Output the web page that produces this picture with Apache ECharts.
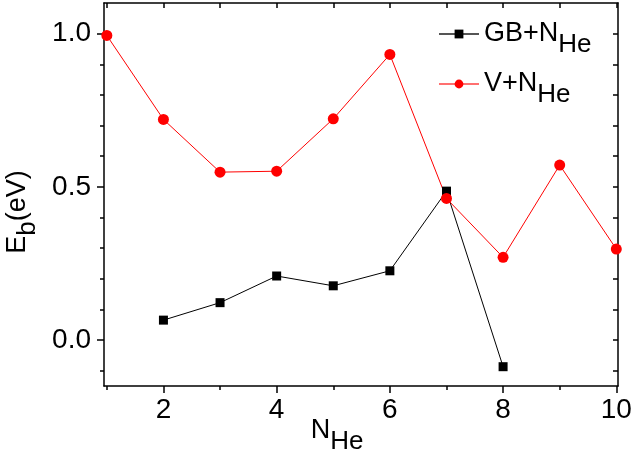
<!DOCTYPE html>
<html>
<head>
    <meta charset="UTF-8">
    <title>Eb vs NHe</title>
    <script src="https://cdn.jsdelivr.net/npm/echarts/dist/echarts.min.js"></script>
    <style>
        html, body { margin: 0; padding: 0; background: #fff; }
        #main { width: 634px; height: 458px; }
    </style>
</head>
<body>
    <div id="main"></div>
    <script>
        // ===== data =====
        const nHe = [1, 2, 3, 4, 5, 6, 7, 8, 9, 10];
        const gbX = [2, 3, 4, 5, 6, 7, 8];
        const gbY = [0.065, 0.122, 0.209, 0.177, 0.226, 0.486, -0.087];
        const vY = [0.994, 0.72, 0.548, 0.551, 0.722, 0.932, 0.462, 0.27, 0.571, 0.297];

        const xMajor = [2, 4, 6, 8, 10];
        const xMinor = [1, 3, 5, 7, 9];
        const yMajor = [0, 0.5, 1.0];
        const yMinor = [-0.1, 0.1, 0.2, 0.3, 0.4, 0.6, 0.7, 0.8, 0.9];
        const yAll = [-0.1, 0, 0.1, 0.2, 0.3, 0.4, 0.5, 0.6, 0.7, 0.8, 0.9, 1.0];
        // ================

        const font = 'Liberation Sans, Arial, sans-serif';
        // subscript drawn lower via top padding
        const rich = {
            m: { fontSize: 27, lineHeight: 30, verticalAlign: 'middle', fontFamily: font, color: '#000' },
            s: { fontSize: 26, lineHeight: 30, verticalAlign: 'middle', padding: [22, 0, 0, 0], fontFamily: font, color: '#000' }
        };
        const X_MIN = 0.95, X_MAX = 10.03, Y_MIN = -0.15, Y_MAX = 1.1;
        const lineCol = { color: '#000', width: 1.5 };

        const chart = echarts.init(document.getElementById('main'));
        chart.setOption({
            animation: false,
            grid: { left: 104, right: 16, top: 3, bottom: 72, containLabel: false, outerBoundsMode: 'none' },
            legend: {
                orient: 'vertical',
                left: 433,
                top: 5,
                itemWidth: 40,
                itemHeight: 11,
                itemGap: 2,
                data: [
                    { name: 'GB', lineStyle: { color: '#555' } },
                    { name: 'V', lineStyle: { color: '#ff7070' } }
                ],
                formatter: function (name) {
                    return name === 'GB' ? '{m|GB+N}{s|He}' : '{m|V+N}{s|He}';
                },
                textStyle: { rich: rich }
            },
            xAxis: [{
                type: 'value', position: 'bottom', min: X_MIN, max: X_MAX,
                axisLine: { onZero: false, lineStyle: lineCol },
                axisTick: { customValues: xMajor, length: 7, lineStyle: lineCol },
                axisLabel: { customValues: xMajor, fontSize: 28, fontFamily: font, color: '#000', margin: 10 },
                splitLine: { show: false },
                name: '{m|N}{s|He}',
                nameLocation: 'middle',
                nameGap: 30,
                nameMoveOverlap: false,
                nameTextStyle: { rich: rich, padding: [0, 48, 0, 0] }
            }, {
                type: 'value', position: 'bottom', min: X_MIN, max: X_MAX,
                axisLine: { show: false, onZero: false },
                axisTick: { customValues: xMinor, length: 4, lineStyle: lineCol },
                axisLabel: { show: false },
                splitLine: { show: false }
            }, {
                type: 'value', position: 'top', min: X_MIN, max: X_MAX,
                axisLine: { onZero: false, lineStyle: lineCol },
                axisTick: { customValues: nHe, length: 5, inside: true, lineStyle: lineCol },
                axisLabel: { show: false },
                splitLine: { show: false }
            }],
            yAxis: [{
                type: 'value', position: 'left', min: Y_MIN, max: Y_MAX,
                axisLine: { show: true, onZero: false, lineStyle: lineCol },
                axisTick: { customValues: yMajor, length: 7, lineStyle: lineCol },
                axisLabel: {
                    customValues: yMajor, fontSize: 28, fontFamily: font, color: '#000', margin: 13,
                    formatter: v => v.toFixed(1)
                },
                splitLine: { show: false },
                name: '{m|E}{s|b}{m|(eV)}',
                nameLocation: 'middle',
                nameRotate: 90,
                nameGap: 47,
                nameTextStyle: { rich: rich, padding: [0, 35, 0, 0] }
            }, {
                type: 'value', position: 'left', min: Y_MIN, max: Y_MAX,
                axisLine: { show: false, onZero: false },
                axisTick: { customValues: yMinor, length: 4, lineStyle: lineCol },
                axisLabel: { show: false },
                splitLine: { show: false }
            }, {
                type: 'value', position: 'right', min: Y_MIN, max: Y_MAX,
                axisLine: { show: true, onZero: false, lineStyle: lineCol },
                axisTick: { customValues: yAll, length: 5, inside: true, lineStyle: lineCol },
                axisLabel: { show: false },
                splitLine: { show: false }
            }],
            series: [{
                name: 'GB',
                type: 'line',
                data: gbX.map((x, i) => [x, gbY[i]]),
                symbol: 'rect',
                symbolSize: 9,
                showAllSymbol: true,
                lineStyle: { color: '#000', width: 1 },
                itemStyle: { color: '#000' }
            }, {
                name: 'V',
                type: 'line',
                data: nHe.map((x, i) => [x, vY[i]]),
                symbol: 'circle',
                symbolSize: 11,
                showAllSymbol: true,
                lineStyle: { color: '#ff0000', width: 1 },
                itemStyle: { color: '#ff0000' }
            }]
        });
    </script>
</body>
</html>
